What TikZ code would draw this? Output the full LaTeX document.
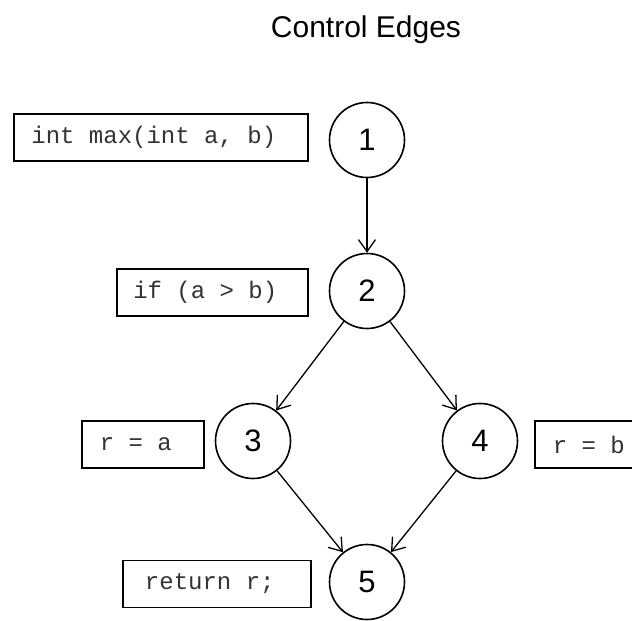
\documentclass[tikz,border=0pt]{standalone}
\usepackage{fontspec}
\setmainfont{Liberation Sans}
\newfontfamily\codefont{Liberation Mono}
\usetikzlibrary{arrows.meta}
\newcommand{\trail}{\phantom{x}}
\begin{document}
\begin{tikzpicture}[x=1pt,y=-1pt,
  state/.style={circle,draw,line width=1.6pt,minimum size=75pt,inner sep=0pt,font=\fontsize{31}{31}\selectfont},
  codebox/.style={draw,line width=1.8pt,minimum height=47pt,inner sep=0pt,font=\codefont\fontsize{24}{24}\selectfont,text=black!80},
  edge/.style={line width=1.3pt,-{Straight Barb[length=12pt,width=17pt,line width=1.3pt]}}]
\useasboundingbox (0,0) rectangle (632,621);
\clip (0,0) rectangle (632,621);
\fill[white] (0,0) rectangle (632,621);
\node[font=\fontsize{30}{30}\selectfont] (title) at (366,30) {Control Edges};
\node[state] (n1) at (367,140) {1};
\node[state] (n2) at (367,291) {2};
\node[state] (n3) at (253,441) {3};
\node[state] (n4) at (480,441) {4};
\node[state] (n5) at (367,582) {5};
\node[codebox,minimum width=294pt] (c1) at (161,137.5) {int max(int a, b)\trail};
\node[codebox,minimum width=191pt] (c2) at (212.5,292.5) {if (a > b)\trail};
\node[codebox,minimum width=122pt] (c3) at (143,444.5) {r = a\trail};
\node[codebox,minimum width=122pt] (c4) at (596,444.5) {r = b\trail};
\node[codebox,minimum width=188pt] (c5) at (217,584) {return r;\trail};
\draw[edge] (n1) -- (n2);
\draw[edge] (n2) -- (n3);
\draw[edge] (n2) -- (n4);
\draw[edge] (n3) -- (n5);
\draw[edge] (n4) -- (n5);
\end{tikzpicture}
\end{document}
